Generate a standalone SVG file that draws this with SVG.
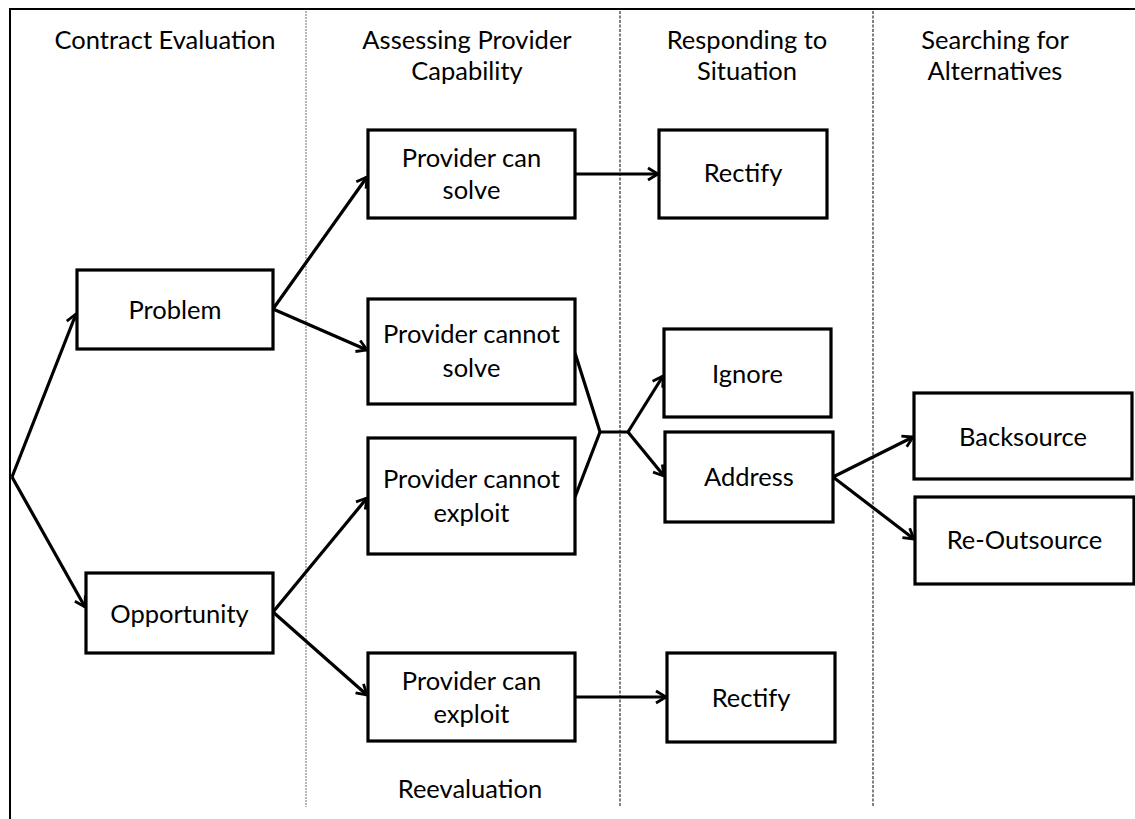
<svg xmlns="http://www.w3.org/2000/svg" width="1135" height="819" viewBox="0 0 1135 819">
<defs>
<style>
text{font-family:Lato,"Liberation Sans",sans-serif;font-size:25.5px;fill:#000;text-anchor:middle}
.box{fill:#fff;stroke:#000;stroke-width:3.2}
.conn{fill:none;stroke:#000;stroke-width:3.2;stroke-linejoin:miter}
.arr{marker-end:url(#ah)}
.div1{stroke:#888;stroke-width:1.2;stroke-dasharray:2 1}
.div{stroke:#000;stroke-width:1;stroke-dasharray:3 1.5}
</style>
<marker id="ah" markerUnits="userSpaceOnUse" markerWidth="16" markerHeight="16" refX="13" refY="8" orient="auto">
<path d="M3,2 L13,8 L3,14" fill="none" stroke="#000" stroke-width="2.8"/>
</marker>
</defs>
<rect width="1135" height="819" fill="#fff"/>
<g id="frame">
<path d="M10,819 L10,9 L1135,9" fill="none" stroke="#000" stroke-width="2"/>
<line class="div1" x1="306" y1="11" x2="306" y2="807"/>
<line class="div" x1="620" y1="11" x2="620" y2="807"/>
<line class="div" x1="873" y1="11" x2="873" y2="807"/>
</g>
<g id="headers">
<text x="165" y="49">Contract Evaluation</text>
<text x="467" y="49">Assessing Provider</text>
<text x="467" y="80">Capability</text>
<text x="747" y="49">Responding to</text>
<text x="747" y="80">Situation</text>
<text x="995" y="49">Searching for</text>
<text x="995" y="80">Alternatives</text>
<text x="470" y="798">Reevaluation</text>
</g>
<g id="connectors">
<line class="conn arr" x1="12" y1="477" x2="76" y2="314"/>
<line class="conn arr" x1="12" y1="477" x2="85" y2="607"/>
<line class="conn arr" x1="273" y1="309" x2="367" y2="177"/>
<line class="conn arr" x1="273" y1="309" x2="367" y2="350"/>
<line class="conn arr" x1="273" y1="612" x2="367" y2="498"/>
<line class="conn arr" x1="273" y1="612" x2="367" y2="695"/>
<line class="conn arr" x1="575" y1="174" x2="658" y2="174"/>
<line class="conn arr" x1="575" y1="697" x2="666" y2="697"/>
<polyline class="conn" points="575,353 600,432 628,432"/>
<line class="conn" x1="575" y1="497" x2="600" y2="432"/>
<line class="conn arr" x1="628" y1="432" x2="663" y2="376"/>
<line class="conn arr" x1="628" y1="432" x2="664" y2="476"/>
<line class="conn arr" x1="833" y1="477" x2="913" y2="437"/>
<line class="conn arr" x1="833" y1="477" x2="914" y2="539"/>
</g>
<g id="n-problem"><rect class="box" x="77" y="270" width="196" height="79"/><text x="175" y="319">Problem</text></g>
<g id="n-opportunity"><rect class="box" x="86" y="573" width="187" height="80"/><text x="179.5" y="623">Opportunity</text></g>
<g id="n-can-solve"><rect class="box" x="368" y="130" width="207" height="88"/><text x="471.5" y="167">Provider can</text><text x="471.5" y="199">solve</text></g>
<g id="n-cannot-solve"><rect class="box" x="368" y="299" width="207" height="105"/><text x="471.5" y="343">Provider cannot</text><text x="471.5" y="377">solve</text></g>
<g id="n-cannot-exploit"><rect class="box" x="368" y="438" width="207" height="116"/><text x="471.5" y="488">Provider cannot</text><text x="471.5" y="522">exploit</text></g>
<g id="n-can-exploit"><rect class="box" x="368" y="653" width="207" height="88"/><text x="471.5" y="690">Provider can</text><text x="471.5" y="723">exploit</text></g>
<g id="n-rectify1"><rect class="box" x="659" y="130" width="168" height="88"/><text x="743" y="182">Rectify</text></g>
<g id="n-ignore"><rect class="box" x="664" y="329" width="167" height="88"/><text x="747.5" y="383">Ignore</text></g>
<g id="n-address"><rect class="box" x="665" y="432" width="168" height="90"/><text x="749" y="486">Address</text></g>
<g id="n-rectify2"><rect class="box" x="667" y="653" width="168" height="89"/><text x="751" y="707">Rectify</text></g>
<g id="n-backsource"><rect class="box" x="914" y="393" width="218" height="86"/><text x="1023" y="446">Backsource</text></g>
<g id="n-reoutsource"><rect class="box" x="915" y="497" width="219" height="87"/><text x="1024.5" y="549">Re-Outsource</text></g>
</svg>
